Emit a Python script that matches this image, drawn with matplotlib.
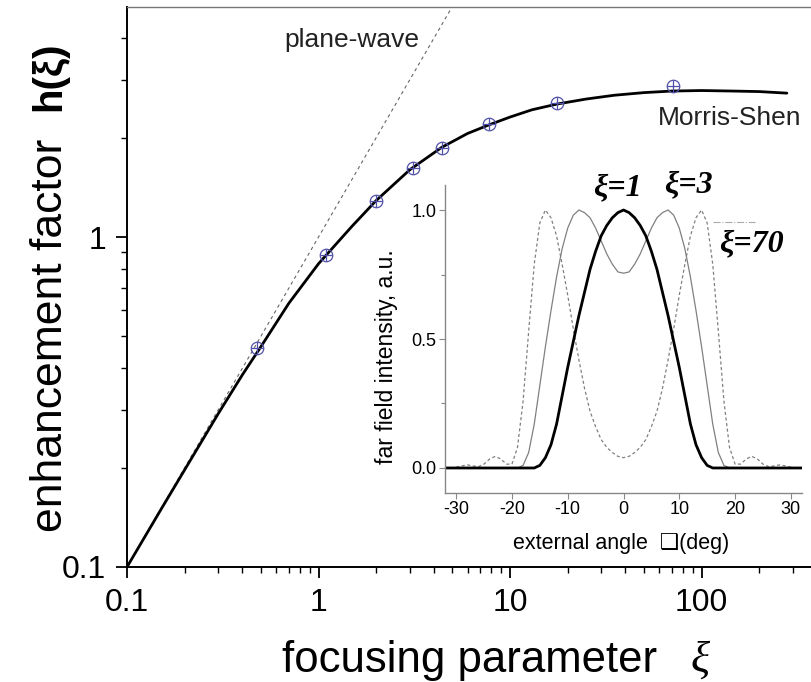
import matplotlib
matplotlib.use("Agg")
import matplotlib.pyplot as plt
from matplotlib.ticker import FixedLocator, FixedFormatter, LogLocator, NullFormatter, MultipleLocator, FormatStrFormatter

plt.rcParams['font.family'] = ['Liberation Sans', 'DejaVu Sans']
plt.rcParams['axes.unicode_minus'] = False

# ---------------- main chart data ----------------
ms_xi = [0.1, 0.15, 0.2, 0.3, 0.4, 0.5, 0.7, 1.0, 1.5, 2.0, 3.0, 4.4, 6.0, 7.8, 10,
         13, 17.6, 25, 35, 50, 70, 100, 146, 200, 279]
ms_h = [0.1, 0.149, 0.197, 0.292, 0.382, 0.465, 0.63, 0.83, 1.08, 1.29, 1.60, 1.87, 2.06, 2.19, 2.31,
        2.43, 2.53, 2.62, 2.69, 2.74, 2.77, 2.78, 2.77, 2.76, 2.73]

pts_xi = [0.48, 1.1, 2.0, 3.1, 4.4, 7.8, 17.6, 71]
pts_h = [0.46, 0.88, 1.29, 1.62, 1.86, 2.20, 2.55, 2.87]

pw_xi = [0.1, 6.0]
pw_h = [0.1, 6.0]

xticks = [0.1, 1, 10, 100]
xtick_labels = ['0.1', '1', '10', '100']
yticks = [0.1, 1]
ytick_labels = ['0.1', '1']

# ---------------- inset data ----------------
angle = list(range(-32, 33))
I_xi1 = [0]*16 + [0.0, 0.01, 0.04, 0.09, 0.17, 0.28, 0.39, 0.49, 0.59, 0.68, 0.77, 0.84, 0.90, 0.94, 0.97, 0.99,
                  1.00,
                  0.99, 0.97, 0.94, 0.90, 0.84, 0.77, 0.68, 0.59, 0.49, 0.39, 0.28, 0.17, 0.09, 0.04, 0.01, 0.0] + [0]*16
I_xi3 = [0]*13 + [0.0, 0.01, 0.06, 0.17, 0.32, 0.47, 0.61, 0.74, 0.85, 0.93, 0.98, 1.00, 0.99, 0.97, 0.93, 0.88, 0.83, 0.79, 0.76,
                  0.755,
                  0.76, 0.79, 0.83, 0.88, 0.93, 0.97, 0.99, 1.00, 0.98, 0.93, 0.85, 0.74, 0.61, 0.47, 0.32, 0.17, 0.06, 0.01, 0.0] + [0]*13
I_xi70 = [0.0, 0.0, 0.003, 0.008, 0.012, 0.008, 0.005, 0.015, 0.035, 0.045, 0.035, 0.015, 0.015, 0.08, 0.26, 0.53,
          0.79, 0.95, 1.00, 0.97, 0.90, 0.79, 0.67, 0.54, 0.42, 0.31, 0.22, 0.16, 0.11, 0.08, 0.06, 0.045,
          0.04,
          0.045, 0.06, 0.08, 0.11, 0.16, 0.22, 0.31, 0.42, 0.54, 0.67, 0.79, 0.90, 0.97, 1.00, 0.95, 0.79,
          0.53, 0.26, 0.08, 0.015, 0.015, 0.035, 0.045, 0.035, 0.015, 0.005, 0.008, 0.012, 0.008, 0.003, 0.0, 0.0]
leader_x = [16, 23.5]
leader_y = [0.953, 0.953]
inset_xticks = [-30, -20, -10, 0, 10, 20, 30]
inset_yticks = [0.0, 0.5, 1.0]

W, H = 811, 682
fig = plt.figure(figsize=(W/100, H/100), dpi=100)


def fx(px):
    return px / W


def fy(py):
    return 1 - py / H


# ---------------- main axes ----------------
ax = fig.add_axes([fx(127), fy(567), 1 - fx(127), (567 - 7) / H])
ax.set_xscale('log')
ax.set_yscale('log')
ax.set_xlim(0.1, 373)
ax.set_ylim(0.1, 4.98)

ax.plot(pw_xi, pw_h, color='#666666', lw=0.8, dashes=(3, 3))
ax.plot(ms_xi, ms_h, color='black', lw=2.0, solid_capstyle='round')
ax.plot(pts_xi, pts_h, linestyle='none', marker='o', ms=9, mfc='none', mec='#5050a8', mew=0.9)
ax.plot(pts_xi, pts_h, linestyle='none', marker='+', ms=9, mec='#5050a8', mew=0.9)

ax.xaxis.set_major_locator(FixedLocator(xticks))
ax.xaxis.set_major_formatter(FixedFormatter(xtick_labels))
ax.yaxis.set_major_locator(FixedLocator(yticks))
ax.yaxis.set_major_formatter(FixedFormatter(ytick_labels))
ax.xaxis.set_minor_locator(LogLocator(base=10, subs=[2, 3, 4, 5, 6, 7, 8, 9]))
ax.yaxis.set_minor_locator(LogLocator(base=10, subs=[2, 3, 4, 5, 6, 7, 8, 9]))
ax.xaxis.set_minor_formatter(NullFormatter())
ax.yaxis.set_minor_formatter(NullFormatter())
ax.tick_params(which='major', direction='out', length=8, width=1.3, labelsize=23, pad=7)
ax.tick_params(which='minor', direction='out', length=4, width=1.0)

ax.spines['right'].set_visible(False)
ax.spines['top'].set_color('#777777')
ax.spines['top'].set_linewidth(1.0)
ax.spines['left'].set_linewidth(1.4)
ax.spines['bottom'].set_linewidth(1.4)

ax.text(1.5, 3.96, 'plane-wave', fontsize=19, ha='center', va='center', color='#222222')
ax.text(141, 2.30, 'Morris-Shen', fontsize=19, ha='center', va='center', color='#222222')

# y label (two parts: plain + bold)
fig.text(fx(62), fy(335), 'enhancement factor', rotation=90, rotation_mode='anchor',
         fontsize=32, ha='center', va='baseline')
fig.text(fx(60), fy(76), 'h(ξ)', rotation=90, rotation_mode='anchor',
         fontsize=29, weight='bold', ha='center', va='baseline')
# x label
fig.text(fx(470), fy(672), 'focusing parameter', fontsize=31.5, ha='center', va='baseline')
fig.text(fx(700), fy(672), 'ξ', fontsize=32, family='Liberation Serif', style='italic',
         ha='center', va='baseline')

# ---------------- inset ----------------
ins = fig.add_axes([fx(445), fy(493), (802 - 445) / W, (493 - 185) / H])
ins.set_xlim(-32, 32)
ins.set_ylim(-0.097, 1.097)
ins.plot(angle, I_xi70, color='#808080', lw=0.9, dashes=(2.5, 2))
ins.plot(angle, I_xi3, color='#808080', lw=0.9)
ins.plot(angle, I_xi1, color='black', lw=2.0)
ins.plot(leader_x, leader_y, color='#aaaaaa', lw=0.8, linestyle='-.')

ins.spines['top'].set_visible(False)
ins.spines['right'].set_visible(False)
for s in ('left', 'bottom'):
    ins.spines[s].set_color('#888888')
    ins.spines[s].set_linewidth(1.0)
ins.xaxis.set_major_locator(FixedLocator(inset_xticks))
ins.yaxis.set_major_locator(FixedLocator(inset_yticks))
ins.yaxis.set_major_formatter(FormatStrFormatter('%.1f'))
ins.yaxis.set_minor_locator(MultipleLocator(0.25))
ins.tick_params(which='major', direction='out', length=4, width=0.8, color='#888888',
                labelsize=13, pad=2)
ins.tick_params(which='minor', direction='out', length=3, width=0.8, color='#888888')
ins.patch.set_alpha(0)

for xv, yv, s in [(-1.1, 1.085, 'ξ=1'), (11.6, 1.097, 'ξ=3'), (23, 0.87, 'ξ=70')]:
    ins.text(xv, yv, s, fontsize=23, family='Liberation Serif', style='italic',
             weight='bold', ha='center', va='center')

fig.text(fx(387), fy(357), 'far field intensity, a.u.', rotation=90, fontsize=16.5,
         ha='center', va='center')
fig.text(fx(621), fy(543), 'external angle  ❑(deg)', fontsize=15.5, ha='center', va='center')

fig.savefig('out.png', dpi=100)
